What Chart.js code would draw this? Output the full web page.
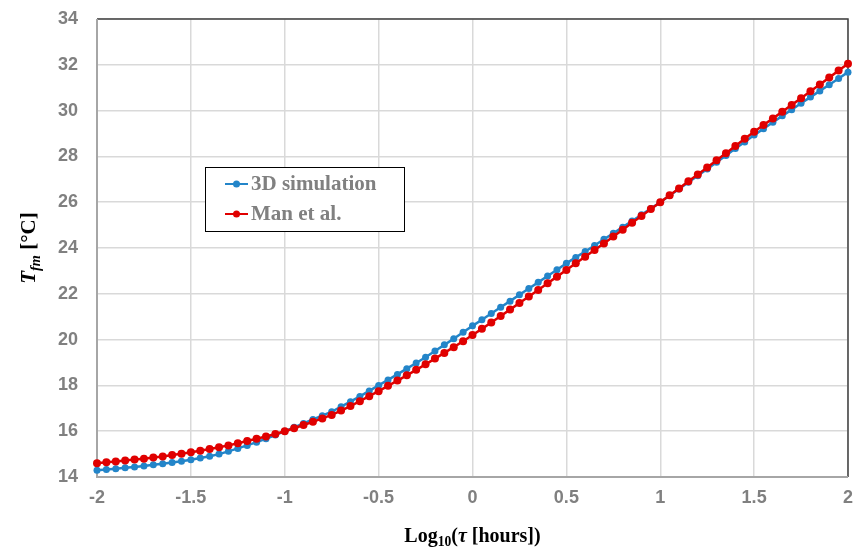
<!DOCTYPE html>
<html>
<head>
<meta charset="utf-8">
<script src="https://cdn.jsdelivr.net/npm/chart.js@4"></script>
<style>
  html, body { margin: 0; padding: 0; background: #fff; }
  #wrap { width: 855px; height: 552px; }
</style>
</head>
<body>
<div id="wrap"><canvas id="myChart" width="855" height="552"></canvas></div>
<script>
const ctx = document.getElementById("myChart");

// log10 of tau in hours, step 0.05
const logTau = [
  -2.00, -1.95, -1.90, -1.85, -1.80, -1.75, -1.70, -1.65, -1.60, -1.55,
  -1.50, -1.45, -1.40, -1.35, -1.30, -1.25, -1.20, -1.15, -1.10, -1.05,
  -1.00, -0.95, -0.90, -0.85, -0.80, -0.75, -0.70, -0.65, -0.60, -0.55,
  -0.50, -0.45, -0.40, -0.35, -0.30, -0.25, -0.20, -0.15, -0.10, -0.05,
  0.00, 0.05, 0.10, 0.15, 0.20, 0.25, 0.30, 0.35, 0.40, 0.45,
  0.50, 0.55, 0.60, 0.65, 0.70, 0.75, 0.80, 0.85, 0.90, 0.95,
  1.00, 1.05, 1.10, 1.15, 1.20, 1.25, 1.30, 1.35, 1.40, 1.45,
  1.50, 1.55, 1.60, 1.65, 1.70, 1.75, 1.80, 1.85, 1.90, 1.95,
  2.00
];

// T_fm from the 3D simulation
const simTemp = [
  14.30, 14.33, 14.36, 14.40, 14.44, 14.48, 14.53, 14.58, 14.63, 14.69,
  14.75, 14.83, 14.91, 15.00, 15.12, 15.25, 15.38, 15.52, 15.67, 15.83,
  16.00, 16.17, 16.34, 16.51, 16.68, 16.85, 17.07, 17.29, 17.52, 17.76,
  18.00, 18.24, 18.48, 18.73, 18.98, 19.23, 19.50, 19.77, 20.04, 20.32,
  20.60, 20.87, 21.14, 21.41, 21.68, 21.96, 22.23, 22.50, 22.78, 23.05,
  23.33, 23.59, 23.85, 24.11, 24.38, 24.64, 24.91, 25.18, 25.45, 25.72,
  26.00, 26.29, 26.58, 26.87, 27.16, 27.45, 27.75, 28.04, 28.34, 28.63,
  28.93, 29.21, 29.49, 29.77, 30.04, 30.32, 30.59, 30.86, 31.13, 31.40,
  31.68
];

// T_fm from Man et al.
const manTemp = [
  14.60, 14.64, 14.68, 14.72, 14.76, 14.80, 14.85, 14.90, 14.96, 15.02,
  15.08, 15.15, 15.22, 15.30, 15.38, 15.47, 15.57, 15.67, 15.77, 15.88,
  16.00, 16.13, 16.27, 16.41, 16.56, 16.71, 16.90, 17.10, 17.31, 17.53,
  17.75, 17.98, 18.21, 18.44, 18.68, 18.92, 19.17, 19.42, 19.67, 19.93,
  20.20, 20.47, 20.75, 21.03, 21.31, 21.60, 21.88, 22.17, 22.46, 22.75,
  23.04, 23.33, 23.62, 23.91, 24.20, 24.50, 24.80, 25.10, 25.40, 25.70,
  26.00, 26.30, 26.60, 26.91, 27.21, 27.52, 27.83, 28.14, 28.45, 28.77,
  29.08, 29.37, 29.66, 29.95, 30.25, 30.54, 30.84, 31.14, 31.44, 31.75,
  32.05
];

const seriesNames = ["3D simulation", "Man et al."];
const seriesColors = ["#2385c9", "#e00000"];

const GRAY = "#808080";
const SERIF = "'Liberation Serif', 'Times New Roman', serif";
const SANS = "'Liberation Sans', Arial, sans-serif";

function toPoints(xs, ys) {
  return xs.map((x, i) => ({ x: x, y: ys[i] }));
}

// draw a run of text pieces with optional italic / subscript
function drawPieces(c, pieces, x, y, size) {
  let total = 0;
  pieces.forEach((p) => {
    const s = p.sub ? size * 0.68 : size;
    c.font = (p.italic ? "italic " : "") + "bold " + s + "px " + SERIF;
    p.w = c.measureText(p.t).width;
    total += p.w;
  });
  let cx = x - total / 2;
  pieces.forEach((p) => {
    const s = p.sub ? size * 0.68 : size;
    c.font = (p.italic ? "italic " : "") + "bold " + s + "px " + SERIF;
    c.fillText(p.t, cx, p.sub ? y + size * 0.22 : y);
    cx += p.w;
  });
}

const decor = {
  id: "decor",
  beforeDatasetsDraw(chart) {
    const a = chart.chartArea;
    const c = chart.ctx;
    c.save();
    // plot area frame
    c.strokeStyle = "#404040";
    c.lineWidth = 1.5;
    c.beginPath();
    c.moveTo(a.left, a.top);
    c.lineTo(a.right, a.top);
    c.lineTo(a.right, a.bottom);
    c.stroke();
    // axis lines
    c.strokeStyle = "#a6a6a6";
    c.lineWidth = 2;
    c.beginPath();
    c.moveTo(a.left, a.top);
    c.lineTo(a.left, a.bottom);
    c.lineTo(a.right, a.bottom);
    c.stroke();
    c.restore();
  },
  afterDraw(chart) {
    const c = chart.ctx;
    const a = chart.chartArea;
    c.save();
    c.fillStyle = "#000";
    c.textBaseline = "alphabetic";
    // x axis title
    drawPieces(c, [
      { t: "Log" },
      { t: "10", sub: true },
      { t: "(" },
      { t: "\u03c4", italic: true },
      { t: " [hours])" }
    ], (a.left + a.right) / 2, 542, 20);
    // y axis title
    c.translate(35, (a.top + a.bottom) / 2);
    c.rotate(-Math.PI / 2);
    drawPieces(c, [
      { t: "T", italic: true },
      { t: "fm", italic: true, sub: true },
      { t: " [\u00b0C]" }
    ], 0, 0, 21);
    c.restore();

    // legend box
    c.save();
    const bx = 205, by = 167, bw = 199, bh = 64;
    c.fillStyle = "#fff";
    c.fillRect(bx, by, bw, bh);
    c.strokeStyle = "#000";
    c.lineWidth = 1;
    c.strokeRect(bx + 0.5, by + 0.5, bw, bh);
    seriesNames.forEach((name, i) => {
      const yy = 184 + i * 30;
      c.strokeStyle = seriesColors[i];
      c.lineWidth = 2;
      c.beginPath();
      c.moveTo(225, yy);
      c.lineTo(248, yy);
      c.stroke();
      c.fillStyle = seriesColors[i];
      c.beginPath();
      c.arc(236.5, yy, 3.5, 0, Math.PI * 2);
      c.fill();
      c.fillStyle = GRAY;
      c.font = "bold 21px " + SERIF;
      c.textBaseline = "middle";
      c.fillText(name, 251, yy + 1);
    });
    c.restore();
  }
};

const chart = new Chart(ctx, {
  type: "line",
  data: {
    datasets: [
      {
        label: seriesNames[0],
        data: toPoints(logTau, simTemp),
        borderColor: seriesColors[0],
        backgroundColor: seriesColors[0],
        borderWidth: 2.5,
        pointRadius: 3.5,
        pointBorderWidth: 0,
        pointHoverRadius: 3.5,
        order: 1
      },
      {
        label: seriesNames[1],
        data: toPoints(logTau, manTemp),
        borderColor: seriesColors[1],
        backgroundColor: seriesColors[1],
        borderWidth: 2.5,
        pointRadius: 4,
        pointBorderWidth: 0,
        pointHoverRadius: 4,
        order: 0
      }
    ]
  },
  options: {
    responsive: false,
    animation: false,
    clip: false,
    layout: { padding: { left: 0, right: 7, top: 19, bottom: 0 } },
    scales: {
      x: {
        type: "linear",
        min: -2,
        max: 2,
        afterFit(scale) {
          scale.height = 75;
          scale.paddingLeft = 0;
          scale.paddingRight = 0;
        },
        ticks: {
          stepSize: 0.5,
          padding: 10,
          color: GRAY,
          font: { family: SANS, size: 18, weight: "bold" },
          callback: (v) => String(v)
        },
        grid: { color: "#d9d9d9", lineWidth: 1.5, drawTicks: false },
        border: { display: false }
      },
      y: {
        min: 14,
        max: 34,
        afterFit(scale) {
          scale.width = 97;
          scale.paddingTop = 0;
          scale.paddingBottom = 0;
        },
        ticks: {
          stepSize: 2,
          padding: 19,
          color: GRAY,
          font: { family: SANS, size: 18, weight: "bold" }
        },
        grid: { color: "#d9d9d9", lineWidth: 1.5, drawTicks: false },
        border: { display: false }
      }
    },
    plugins: {
      legend: { display: false },
      tooltip: { enabled: false }
    }
  },
  plugins: [decor]
});
</script>
</body>
</html>
